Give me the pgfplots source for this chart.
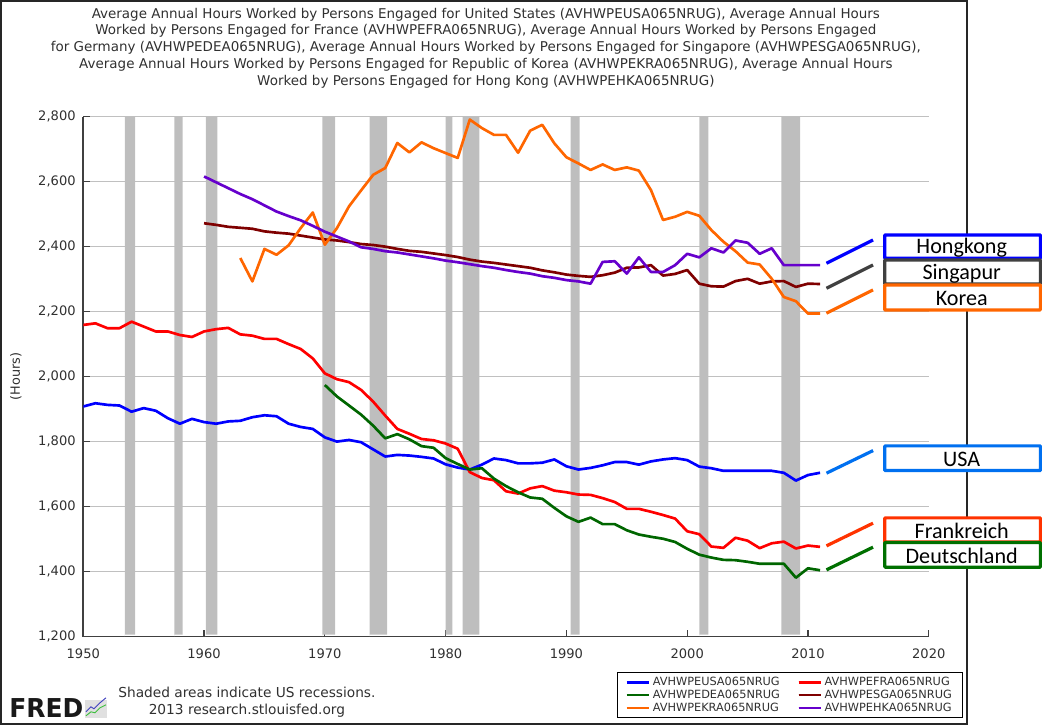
\documentclass[border=0pt]{standalone}
\usepackage{pgfplots}
\pgfplotsset{compat=1.18}
\usepackage{fontspec}
\setmainfont{DejaVu Sans}
\newfontfamily\calib{Carlito}
\definecolor{grd}{HTML}{C0C0C0}
\definecolor{band}{HTML}{BEBEBE}
\definecolor{ax}{HTML}{404040}
\definecolor{txt}{HTML}{303030}
\definecolor{cusa}{HTML}{0000FF}
\definecolor{cfra}{HTML}{FF0000}
\definecolor{cdea}{HTML}{006600}
\definecolor{csga}{HTML}{7F0000}
\definecolor{ckra}{HTML}{FF6600}
\definecolor{chka}{HTML}{6600CC}
\pgfplotsset{
  ser/.style={line width=2pt,line join=round,no markers},
  bandp/.style={forget plot,fill=band,draw=none},
}
\begin{document}
\begin{tikzpicture}[x=0.75pt,y=-0.75pt]
\path (0,0) rectangle (1042,726);
\draw[line width=1.3pt,color=black!85] (1,1) rectangle (967.5,724.5);
\begin{axis}[
  at={(62.475pt,-477.525pt)},anchor=south west,
  scale only axis,width=634.3pt,height=390pt,
  xmin=1950,xmax=2020,ymin=1200,ymax=2800,
  axis x line=bottom,axis y line=left,
  axis line style={-,color=ax,line width=1.2pt},
  xtick={1950,1960,...,2020},ytick={1200,1400,...,2800},
  ymajorgrids,grid style={color=grd,line width=1.1pt},
  tick align=inside,major tick length=5pt,
  tick style={color=ax,line width=0.9pt},
  /pgf/number format/assume math mode=true,
  y tick label style={/pgf/number format/1000 sep={,},font=\fontsize{9.8}{11}\selectfont,color=txt,xshift=-2.2pt},
  x tick label style={/pgf/number format/1000 sep={},font=\fontsize{9.8}{11}\selectfont,color=txt,yshift=-6pt},
  ylabel={(Hours)},
  every axis y label/.append style={at={(rel axis cs:-0.0796,0.5)},anchor=center,font=\fontsize{9.6}{10}\selectfont,color=txt},
  legend columns=2,
  legend cell align=left,
  legend style={at={(rel axis cs:0.631,-0.068)},anchor=north west,draw=black,line width=1pt,
    font=\fontsize{8.5}{9}\selectfont,text=txt,inner xsep=6pt,inner ysep=2.5pt,
    row sep=0pt,
    nodes={text height=6.4pt,text depth=1.2pt,inner ysep=1pt},
    /tikz/every even column/.append style={column sep=11pt}},
  legend image code/.code={\path (0pt,0pt) -- (16.5pt,0pt);\draw[line width=2pt,#1] (0pt,0pt) -- (9pt,0pt);},
]
\addplot[bandp] coordinates {(1953.45,1206)(1954.3,1206)(1954.3,2800)(1953.45,2800)} \closedcycle;
\addplot[bandp] coordinates {(1957.55,1206)(1958.22,1206)(1958.22,2800)(1957.55,2800)} \closedcycle;
\addplot[bandp] coordinates {(1960.15,1206)(1961.1,1206)(1961.1,2800)(1960.15,2800)} \closedcycle;
\addplot[bandp] coordinates {(1969.8,1206)(1970.85,1206)(1970.85,2800)(1969.8,2800)} \closedcycle;
\addplot[bandp] coordinates {(1973.7,1206)(1975.15,1206)(1975.15,2800)(1973.7,2800)} \closedcycle;
\addplot[bandp] coordinates {(1980.0,1206)(1980.55,1206)(1980.55,2800)(1980.0,2800)} \closedcycle;
\addplot[bandp] coordinates {(1981.4,1206)(1982.8,1206)(1982.8,2800)(1981.4,2800)} \closedcycle;
\addplot[bandp] coordinates {(1990.35,1206)(1991.1,1206)(1991.1,2800)(1990.35,2800)} \closedcycle;
\addplot[bandp] coordinates {(2001.0,1206)(2001.75,1206)(2001.75,2800)(2001.0,2800)} \closedcycle;
\addplot[bandp] coordinates {(2007.8,1206)(2009.35,1206)(2009.35,2800)(2007.8,2800)} \closedcycle;

\addplot[ser,color=cusa] coordinates {
(1950,1908)(1951,1918)(1952,1913)(1953,1911)(1954,1892)(1955,1903)(1956,1895)(1957,1872)(1958,1855)(1959,1870)
(1960,1860)(1961,1855)(1962,1862)(1963,1864)(1964,1875)(1965,1881)(1966,1878)(1967,1855)(1968,1845)(1969,1839)
(1970,1813)(1971,1800)(1972,1805)(1973,1798)(1974,1776)(1975,1754)(1976,1759)(1977,1757)(1978,1753)(1979,1748)
(1980,1730)(1981,1720)(1982,1714)(1983,1729)(1984,1748)(1985,1743)(1986,1733)(1987,1733)(1988,1735)(1989,1745)
(1990,1724)(1991,1714)(1992,1719)(1993,1727)(1994,1737)(1995,1737)(1996,1729)(1997,1739)(1998,1745)(1999,1749)
(2000,1743)(2001,1723)(2002,1718)(2003,1710)(2004,1710)(2005,1710)(2006,1710)(2007,1710)(2008,1704)(2009,1680)
(2010,1697)(2011,1704)};
\addlegendentry{AVHWPEUSA065NRUG}
\addplot[ser,color=cfra] coordinates {
(1950,2159)(1951,2164)(1952,2149)(1953,2149)(1954,2169)(1955,2154)(1956,2139)(1957,2139)(1958,2128)(1959,2122)
(1960,2139)(1961,2146)(1962,2150)(1963,2130)(1964,2126)(1965,2116)(1966,2116)(1967,2100)(1968,2085)(1969,2056)
(1970,2010)(1971,1992)(1972,1983)(1973,1959)(1974,1923)(1975,1880)(1976,1839)(1977,1824)(1978,1808)(1979,1804)
(1980,1794)(1981,1778)(1982,1706)(1983,1688)(1984,1681)(1985,1647)(1986,1640)(1987,1656)(1988,1663)(1989,1649)
(1990,1644)(1991,1637)(1992,1636)(1993,1626)(1994,1614)(1995,1593)(1996,1593)(1997,1584)(1998,1574)(1999,1563)
(2000,1524)(2001,1515)(2002,1477)(2003,1473)(2004,1504)(2005,1495)(2006,1472)(2007,1487)(2008,1492)(2009,1471)
(2010,1480)(2011,1476)};
\addlegendentry{AVHWPEFRA065NRUG}
\addplot[ser,color=cdea] coordinates {
(1970,1974)(1971,1939)(1972,1911)(1973,1883)(1974,1849)(1975,1810)(1976,1823)(1977,1807)(1978,1786)(1979,1781)
(1980,1749)(1981,1731)(1982,1714)(1983,1718)(1984,1686)(1985,1663)(1986,1644)(1987,1628)(1988,1624)(1989,1596)
(1990,1570)(1991,1553)(1992,1566)(1993,1546)(1994,1546)(1995,1527)(1996,1514)(1997,1507)(1998,1501)(1999,1491)
(2000,1470)(2001,1452)(2002,1443)(2003,1436)(2004,1435)(2005,1430)(2006,1424)(2007,1424)(2008,1424)(2009,1381)
(2010,1410)(2011,1404)};
\addlegendentry{AVHWPEDEA065NRUG}
\addplot[ser,color=csga] coordinates {
(1960,2472)(1961,2467)(1962,2461)(1963,2458)(1964,2455)(1965,2447)(1966,2443)(1967,2440)(1968,2434)(1969,2428)
(1970,2422)(1971,2419)(1972,2414)(1973,2408)(1974,2405)(1975,2400)(1976,2393)(1977,2387)(1978,2384)(1979,2379)
(1980,2374)(1981,2368)(1982,2360)(1983,2354)(1984,2350)(1985,2345)(1986,2340)(1987,2335)(1988,2327)(1989,2321)
(1990,2314)(1991,2310)(1992,2307)(1993,2312)(1994,2320)(1995,2335)(1996,2336)(1997,2343)(1998,2311)(1999,2316)
(2000,2328)(2001,2286)(2002,2278)(2003,2277)(2004,2294)(2005,2301)(2006,2286)(2007,2293)(2008,2294)(2009,2276)
(2010,2286)(2011,2285)};
\addlegendentry{AVHWPESGA065NRUG}
\addplot[ser,color=ckra] coordinates {
(1963,2365)(1964,2293)(1965,2393)(1966,2375)(1967,2404)(1968,2457)(1969,2505)
(1970,2406)(1971,2457)(1972,2524)(1973,2573)(1974,2621)(1975,2642)(1976,2719)(1977,2690)(1978,2721)(1979,2703)
(1980,2688)(1981,2673)(1982,2791)(1983,2765)(1984,2744)(1985,2744)(1986,2689)(1987,2757)(1988,2775)(1989,2718)
(1990,2675)(1991,2656)(1992,2636)(1993,2653)(1994,2636)(1995,2644)(1996,2634)(1997,2574)(1998,2482)(1999,2492)
(2000,2507)(2001,2495)(2002,2451)(2003,2415)(2004,2386)(2005,2351)(2006,2345)(2007,2301)(2008,2245)(2009,2232)
(2010,2194)(2011,2194)};
\addlegendentry{AVHWPEKRA065NRUG}
\addplot[ser,color=chka] coordinates {
(1960,2616)(1961,2598)(1962,2580)(1963,2562)(1964,2546)(1965,2527)(1966,2508)(1967,2494)(1968,2481)(1969,2464)
(1970,2446)(1971,2431)(1972,2416)(1973,2398)(1974,2393)(1975,2386)(1976,2382)(1977,2376)(1978,2370)(1979,2364)
(1980,2357)(1981,2352)(1982,2346)(1983,2340)(1984,2335)(1985,2328)(1986,2322)(1987,2317)(1988,2309)(1989,2304)
(1990,2297)(1991,2293)(1992,2286)(1993,2353)(1994,2355)(1995,2317)(1996,2367)(1997,2322)(1998,2322)(1999,2343)
(2000,2378)(2001,2367)(2002,2395)(2003,2382)(2004,2419)(2005,2412)(2006,2378)(2007,2395)(2008,2343)(2009,2343)
(2010,2343)(2011,2343)};
\addlegendentry{AVHWPEHKA065NRUG}
\end{axis}
% title
\foreach \yy/\tt in {
18.5/{Average Annual Hours Worked by Persons Engaged for United States (AVHWPEUSA065NRUG), Average Annual Hours},
35/{Worked by Persons Engaged for France (AVHWPEFRA065NRUG), Average Annual Hours Worked by Persons Engaged},
52/{for Germany (AVHWPEDEA065NRUG), Average Annual Hours Worked by Persons Engaged for Singapore (AVHWPESGA065NRUG),},
68.7/{Average Annual Hours Worked by Persons Engaged for Republic of Korea (AVHWPEKRA065NRUG), Average Annual Hours},
85.5/{Worked by Persons Engaged for Hong Kong (AVHWPEHKA065NRUG)}}
  \node[anchor=base,inner sep=0pt,text=txt,font=\fontsize{10.1}{11}\selectfont] at (486,\yy) {\tt};
% footer
\node[anchor=base,inner sep=0pt,text=txt,font=\fontsize{10.3}{11}\selectfont] at (247,698) {Shaded areas indicate US recessions.};
\node[anchor=base,inner sep=0pt,text=txt,font=\fontsize{10.3}{11}\selectfont] at (247,715) {2013 research.stlouisfed.org};
% logo
\node[anchor=base west,inner sep=0pt,font=\bfseries\fontsize{19.5}{20}\selectfont,xscale=0.96,text=black!90] at (9,717.5) {FRED};
\fill[black!12] (85,700) rectangle (107,718);
\draw[line width=0.7pt,color=blue!50!gray] (86,712) -- (91,707) -- (94,709) -- (100,703) -- (106,698);
\draw[line width=0.7pt,color=green!50!gray] (86,716) -- (91,712) -- (95,713) -- (100,708) -- (106,705);
% overlay strokes
\foreach \xa/\ya/\xb/\yb/\cc in {
826.7/263.3/873.3/240/{0000FF},
826.7/288.3/873.3/265/{404040},
826.7/313.3/873.3/290/{FF6600},
826.7/473.3/873.3/450.7/{0070F0},
826.7/546/873.3/523.3/{FF3300},
826.7/570/873.3/547.3/{007000}}
 {\definecolor{tmpc}{HTML}{\cc}\draw[line width=2.4pt,color=tmpc] (\xa,\ya) -- (\xb,\yb);}
% boxes
\foreach \ya/\yb/\cc/\lab in {
235/258.3/{0000FF}/Hongkong,
260/284/{404040}/Singapur,
285/310/{FF6600}/Korea,
446/470.7/{0070F0}/USA,
518/542/{FF3300}/Frankreich,
542.7/567.3/{007000}/Deutschland}
 {\definecolor{tmpc}{HTML}{\cc}
  \draw[line width=2.4pt,color=tmpc,fill=white,rounded corners=0.5pt] (885,\ya) rectangle (1040.7,\yb);
  \node[text=black,inner sep=0pt,font=\calib\fontsize{16.6}{18}\selectfont] at (962,{(\ya+\yb)/2+1.5}) {\lab};}
\end{tikzpicture}
\end{document}
